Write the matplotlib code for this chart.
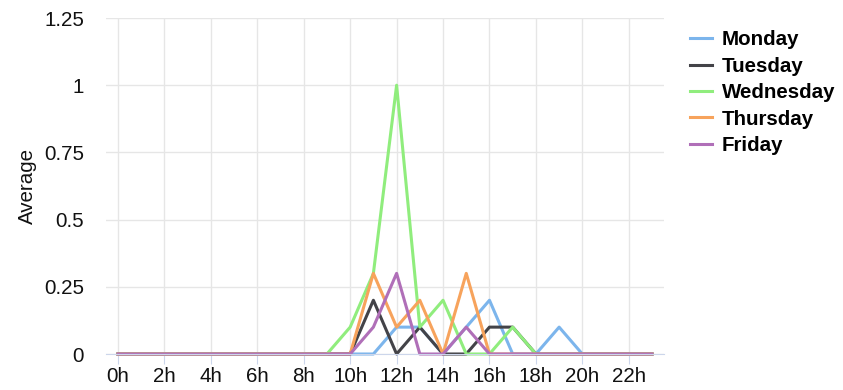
import matplotlib.pyplot as plt

plt.rcParams["font.family"] = ["Liberation Sans", "DejaVu Sans"]

# hourly averages per weekday, 0h..23h
hours = list(range(24))
hour_labels = [f"{h}h" for h in range(0, 24, 2)]
monday = [0, 0, 0, 0, 0, 0, 0, 0, 0, 0, 0, 0, 0.1, 0.1, 0, 0.1, 0.2, 0, 0, 0.1, 0, 0, 0, 0]
tuesday = [0, 0, 0, 0, 0, 0, 0, 0, 0, 0, 0, 0.2, 0, 0.1, 0, 0, 0.1, 0.1, 0, 0, 0, 0, 0, 0]
wednesday = [0, 0, 0, 0, 0, 0, 0, 0, 0, 0, 0.1, 0.3, 1, 0.1, 0.2, 0, 0, 0.1, 0, 0, 0, 0, 0, 0]
thursday = [0, 0, 0, 0, 0, 0, 0, 0, 0, 0, 0, 0.3, 0.1, 0.2, 0, 0.3, 0, 0, 0, 0, 0, 0, 0, 0]
friday = [0, 0, 0, 0, 0, 0, 0, 0, 0, 0, 0, 0.1, 0.3, 0, 0, 0.1, 0, 0, 0, 0, 0, 0, 0, 0]

series = {
    "Monday": (monday, "#7cb5ec"),
    "Tuesday": (tuesday, "#434348"),
    "Wednesday": (wednesday, "#90ed7d"),
    "Thursday": (thursday, "#f7a35c"),
    "Friday": (friday, "#b06fb8"),
}

fig = plt.figure(figsize=(8.43, 3.9), dpi=100)
ax = fig.add_axes([0.1262, 0.0923, 0.661, 0.8615])

for name, (values, color) in series.items():
    ax.plot(hours, values, color=color, linewidth=2.2, label=name, clip_on=False)

ax.set_xlim(-0.5, 23.5)
ax.set_ylim(0, 1.25)
ax.set_xticks(range(0, 24, 2))
ax.set_xticklabels(hour_labels)
ax.set_yticks([0, 0.25, 0.5, 0.75, 1, 1.25])
ax.set_yticklabels(["0", "0.25", "0.5", "0.75", "1", "1.25"])

ax.grid(True, color="#e6e6e6", linewidth=1)
ax.set_axisbelow(True)
for side in ["top", "right", "left"]:
    ax.spines[side].set_visible(False)
ax.spines["bottom"].set_color("#ccd6eb")
ax.tick_params(axis="x", colors="#ccd6eb", labelcolor="#111111", length=7, pad=2.5, labelsize=14.8)
ax.tick_params(axis="y", length=0, pad=16, labelcolor="#111111", labelsize=14.8)
ax.set_ylabel("Average", fontsize=14.8, color="#111111", labelpad=5)

fig.legend(
    loc="upper left",
    bbox_to_anchor=(0.8185, 0.922),
    frameon=False,
    prop={"weight": "bold", "size": 14.8},
    handlelength=1.07,
    handletextpad=0.49,
    labelspacing=0.36,
    borderpad=0,
    borderaxespad=0,
)

fig.savefig("out.png", dpi=100)
